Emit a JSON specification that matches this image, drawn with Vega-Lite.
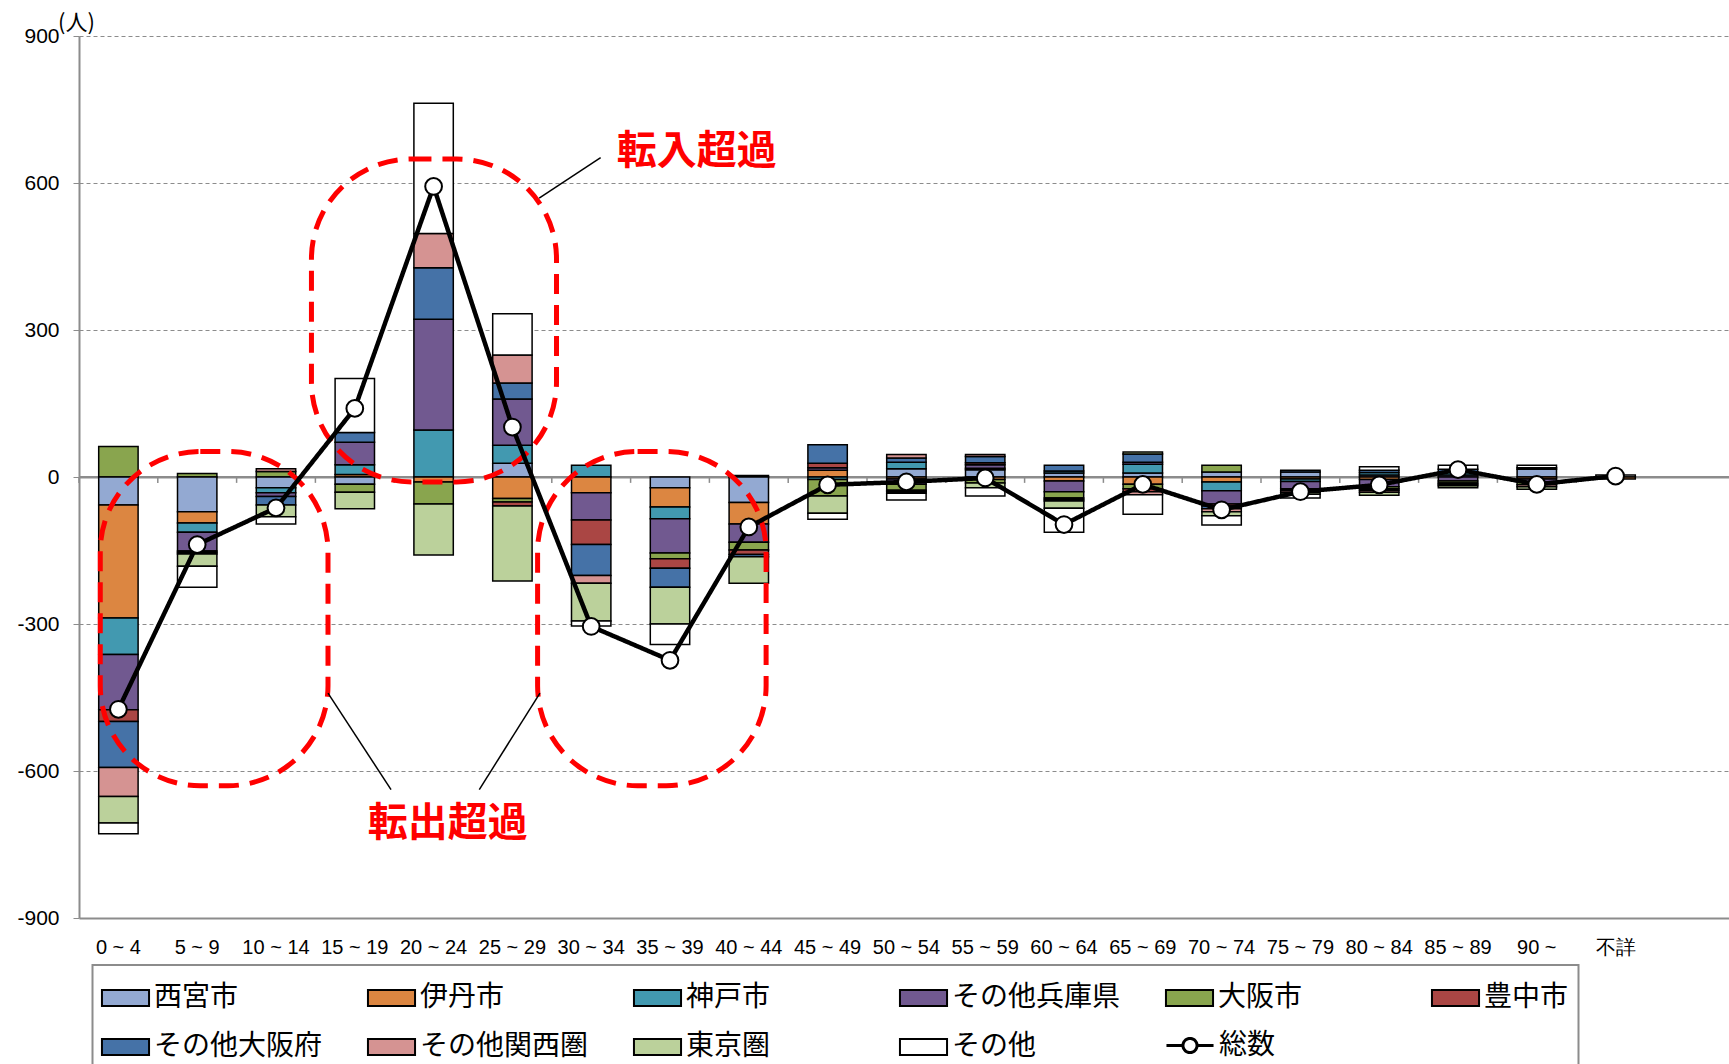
{
  "$schema": "https://vega.github.io/schema/vega-lite/v6.json",
  "width": 1650,
  "height": 882,
  "autosize": {"type": "none"},
  "padding": {"left": 79, "top": 36, "right": 0, "bottom": 146},
  "background": "white",
  "config": {"view": {"stroke": null}, "axis": {"labelFont": "Liberation Sans"}, "legend": {"strokeWidth": 2}},
  "datasets": {
    "series": [
      {"s": "西宮市", "k": 1}, {"s": "伊丹市", "k": 2}, {"s": "神戸市", "k": 3}, {"s": "その他兵庫県", "k": 4}, {"s": "大阪市", "k": 5},
      {"s": "豊中市", "k": 6}, {"s": "その他大阪府", "k": 7}, {"s": "その他関西圏", "k": 8}, {"s": "東京圏", "k": 9}, {"s": "その他", "k": 10}
    ],
    "bars": [
      {"a": "0 ~ 4", "s": "大阪市", "v": 62}, {"a": "0 ~ 4", "s": "西宮市", "v": -57}, {"a": "0 ~ 4", "s": "伊丹市", "v": -231}, {"a": "0 ~ 4", "s": "神戸市", "v": -74}, {"a": "0 ~ 4", "s": "その他兵庫県", "v": -113}, {"a": "0 ~ 4", "s": "豊中市", "v": -24}, {"a": "0 ~ 4", "s": "その他大阪府", "v": -94}, {"a": "0 ~ 4", "s": "その他関西圏", "v": -59}, {"a": "0 ~ 4", "s": "東京圏", "v": -54}, {"a": "0 ~ 4", "s": "その他", "v": -22},
      {"a": "5 ~ 9", "s": "大阪市", "v": 7}, {"a": "5 ~ 9", "s": "西宮市", "v": -71}, {"a": "5 ~ 9", "s": "伊丹市", "v": -23}, {"a": "5 ~ 9", "s": "神戸市", "v": -19}, {"a": "5 ~ 9", "s": "その他兵庫県", "v": -38}, {"a": "5 ~ 9", "s": "豊中市", "v": -3}, {"a": "5 ~ 9", "s": "その他大阪府", "v": -3}, {"a": "5 ~ 9", "s": "東京圏", "v": -25}, {"a": "5 ~ 9", "s": "その他", "v": -43},
      {"a": "10 ~ 14", "s": "大阪市", "v": 11}, {"a": "10 ~ 14", "s": "その他関西圏", "v": 6}, {"a": "10 ~ 14", "s": "西宮市", "v": -22}, {"a": "10 ~ 14", "s": "神戸市", "v": -10}, {"a": "10 ~ 14", "s": "その他兵庫県", "v": -8}, {"a": "10 ~ 14", "s": "その他大阪府", "v": -17}, {"a": "10 ~ 14", "s": "東京圏", "v": -24}, {"a": "10 ~ 14", "s": "その他", "v": -15},
      {"a": "15 ~ 19", "s": "伊丹市", "v": 5}, {"a": "15 ~ 19", "s": "神戸市", "v": 20}, {"a": "15 ~ 19", "s": "その他兵庫県", "v": 46}, {"a": "15 ~ 19", "s": "その他大阪府", "v": 20}, {"a": "15 ~ 19", "s": "その他", "v": 110}, {"a": "15 ~ 19", "s": "西宮市", "v": -15}, {"a": "15 ~ 19", "s": "大阪市", "v": -16}, {"a": "15 ~ 19", "s": "東京圏", "v": -34},
      {"a": "20 ~ 24", "s": "神戸市", "v": 96}, {"a": "20 ~ 24", "s": "その他兵庫県", "v": 226}, {"a": "20 ~ 24", "s": "その他大阪府", "v": 105}, {"a": "20 ~ 24", "s": "その他関西圏", "v": 70}, {"a": "20 ~ 24", "s": "その他", "v": 266}, {"a": "20 ~ 24", "s": "伊丹市", "v": -10}, {"a": "20 ~ 24", "s": "大阪市", "v": -45}, {"a": "20 ~ 24", "s": "東京圏", "v": -104},
      {"a": "25 ~ 29", "s": "西宮市", "v": 28}, {"a": "25 ~ 29", "s": "神戸市", "v": 37}, {"a": "25 ~ 29", "s": "その他兵庫県", "v": 94}, {"a": "25 ~ 29", "s": "その他大阪府", "v": 33}, {"a": "25 ~ 29", "s": "その他関西圏", "v": 57}, {"a": "25 ~ 29", "s": "その他", "v": 84}, {"a": "25 ~ 29", "s": "伊丹市", "v": -44}, {"a": "25 ~ 29", "s": "大阪市", "v": -7}, {"a": "25 ~ 29", "s": "豊中市", "v": -8}, {"a": "25 ~ 29", "s": "東京圏", "v": -153},
      {"a": "30 ~ 34", "s": "神戸市", "v": 24}, {"a": "30 ~ 34", "s": "伊丹市", "v": -32}, {"a": "30 ~ 34", "s": "その他兵庫県", "v": -56}, {"a": "30 ~ 34", "s": "豊中市", "v": -50}, {"a": "30 ~ 34", "s": "その他大阪府", "v": -63}, {"a": "30 ~ 34", "s": "その他関西圏", "v": -16}, {"a": "30 ~ 34", "s": "東京圏", "v": -77}, {"a": "30 ~ 34", "s": "その他", "v": -10},
      {"a": "35 ~ 39", "s": "西宮市", "v": -22}, {"a": "35 ~ 39", "s": "伊丹市", "v": -39}, {"a": "35 ~ 39", "s": "神戸市", "v": -24}, {"a": "35 ~ 39", "s": "その他兵庫県", "v": -70}, {"a": "35 ~ 39", "s": "大阪市", "v": -12}, {"a": "35 ~ 39", "s": "豊中市", "v": -19}, {"a": "35 ~ 39", "s": "その他大阪府", "v": -39}, {"a": "35 ~ 39", "s": "東京圏", "v": -75}, {"a": "35 ~ 39", "s": "その他", "v": -42},
      {"a": "40 ~ 44", "s": "神戸市", "v": 3}, {"a": "40 ~ 44", "s": "西宮市", "v": -52}, {"a": "40 ~ 44", "s": "伊丹市", "v": -44}, {"a": "40 ~ 44", "s": "その他兵庫県", "v": -37}, {"a": "40 ~ 44", "s": "大阪市", "v": -16}, {"a": "40 ~ 44", "s": "豊中市", "v": -9}, {"a": "40 ~ 44", "s": "その他大阪府", "v": -5}, {"a": "40 ~ 44", "s": "東京圏", "v": -54},
      {"a": "45 ~ 49", "s": "伊丹市", "v": 14}, {"a": "45 ~ 49", "s": "その他兵庫県", "v": 5}, {"a": "45 ~ 49", "s": "豊中市", "v": 9}, {"a": "45 ~ 49", "s": "その他大阪府", "v": 38}, {"a": "45 ~ 49", "s": "神戸市", "v": -5}, {"a": "45 ~ 49", "s": "大阪市", "v": -34}, {"a": "45 ~ 49", "s": "東京圏", "v": -35}, {"a": "45 ~ 49", "s": "その他", "v": -12},
      {"a": "50 ~ 54", "s": "西宮市", "v": 17}, {"a": "50 ~ 54", "s": "神戸市", "v": 13}, {"a": "50 ~ 54", "s": "その他大阪府", "v": 9}, {"a": "50 ~ 54", "s": "その他関西圏", "v": 7}, {"a": "50 ~ 54", "s": "伊丹市", "v": -4}, {"a": "50 ~ 54", "s": "その他兵庫県", "v": -11}, {"a": "50 ~ 54", "s": "大阪市", "v": -12}, {"a": "50 ~ 54", "s": "豊中市", "v": -3}, {"a": "50 ~ 54", "s": "東京圏", "v": -3}, {"a": "50 ~ 54", "s": "その他", "v": -14},
      {"a": "55 ~ 59", "s": "西宮市", "v": 15}, {"a": "55 ~ 59", "s": "神戸市", "v": 3}, {"a": "55 ~ 59", "s": "その他兵庫県", "v": 7}, {"a": "55 ~ 59", "s": "豊中市", "v": 4}, {"a": "55 ~ 59", "s": "その他大阪府", "v": 13}, {"a": "55 ~ 59", "s": "その他関西圏", "v": 4}, {"a": "55 ~ 59", "s": "伊丹市", "v": -5}, {"a": "55 ~ 59", "s": "大阪市", "v": -7}, {"a": "55 ~ 59", "s": "東京圏", "v": -10}, {"a": "55 ~ 59", "s": "その他", "v": -17},
      {"a": "60 ~ 64", "s": "西宮市", "v": 8}, {"a": "60 ~ 64", "s": "神戸市", "v": 4}, {"a": "60 ~ 64", "s": "その他大阪府", "v": 12}, {"a": "60 ~ 64", "s": "伊丹市", "v": -8}, {"a": "60 ~ 64", "s": "その他兵庫県", "v": -22}, {"a": "60 ~ 64", "s": "大阪市", "v": -13}, {"a": "60 ~ 64", "s": "豊中市", "v": -3}, {"a": "60 ~ 64", "s": "その他関西圏", "v": -3}, {"a": "60 ~ 64", "s": "東京圏", "v": -15}, {"a": "60 ~ 64", "s": "その他", "v": -49},
      {"a": "65 ~ 69", "s": "西宮市", "v": 8}, {"a": "65 ~ 69", "s": "神戸市", "v": 18}, {"a": "65 ~ 69", "s": "その他兵庫県", "v": 4}, {"a": "65 ~ 69", "s": "その他大阪府", "v": 17}, {"a": "65 ~ 69", "s": "東京圏", "v": 4}, {"a": "65 ~ 69", "s": "伊丹市", "v": -15}, {"a": "65 ~ 69", "s": "大阪市", "v": -9}, {"a": "65 ~ 69", "s": "豊中市", "v": -6}, {"a": "65 ~ 69", "s": "その他関西圏", "v": -6}, {"a": "65 ~ 69", "s": "その他", "v": -40},
      {"a": "70 ~ 74", "s": "西宮市", "v": 10}, {"a": "70 ~ 74", "s": "大阪市", "v": 14}, {"a": "70 ~ 74", "s": "伊丹市", "v": -10}, {"a": "70 ~ 74", "s": "神戸市", "v": -18}, {"a": "70 ~ 74", "s": "その他兵庫県", "v": -27}, {"a": "70 ~ 74", "s": "豊中市", "v": -4}, {"a": "70 ~ 74", "s": "その他大阪府", "v": -6}, {"a": "70 ~ 74", "s": "その他関西圏", "v": -6}, {"a": "70 ~ 74", "s": "東京圏", "v": -8}, {"a": "70 ~ 74", "s": "その他", "v": -19},
      {"a": "75 ~ 79", "s": "西宮市", "v": 10}, {"a": "75 ~ 79", "s": "その他大阪府", "v": 4}, {"a": "75 ~ 79", "s": "伊丹市", "v": -4}, {"a": "75 ~ 79", "s": "神戸市", "v": -5}, {"a": "75 ~ 79", "s": "その他兵庫県", "v": -15}, {"a": "75 ~ 79", "s": "豊中市", "v": -3}, {"a": "75 ~ 79", "s": "その他関西圏", "v": -4}, {"a": "75 ~ 79", "s": "東京圏", "v": -4}, {"a": "75 ~ 79", "s": "その他", "v": -8},
      {"a": "80 ~ 84", "s": "西宮市", "v": 4}, {"a": "80 ~ 84", "s": "神戸市", "v": 5}, {"a": "80 ~ 84", "s": "その他大阪府", "v": 5}, {"a": "80 ~ 84", "s": "その他", "v": 7}, {"a": "80 ~ 84", "s": "伊丹市", "v": -5}, {"a": "80 ~ 84", "s": "その他兵庫県", "v": -15}, {"a": "80 ~ 84", "s": "大阪市", "v": -4}, {"a": "80 ~ 84", "s": "豊中市", "v": -3}, {"a": "80 ~ 84", "s": "その他関西圏", "v": -4}, {"a": "80 ~ 84", "s": "東京圏", "v": -6},
      {"a": "85 ~ 89", "s": "西宮市", "v": 4}, {"a": "85 ~ 89", "s": "神戸市", "v": 6}, {"a": "85 ~ 89", "s": "その他大阪府", "v": 6}, {"a": "85 ~ 89", "s": "その他", "v": 8}, {"a": "85 ~ 89", "s": "その他兵庫県", "v": -8}, {"a": "85 ~ 89", "s": "大阪市", "v": -4}, {"a": "85 ~ 89", "s": "豊中市", "v": -3}, {"a": "85 ~ 89", "s": "その他関西圏", "v": -3}, {"a": "85 ~ 89", "s": "東京圏", "v": -4},
      {"a": "90 ~", "s": "西宮市", "v": 16}, {"a": "90 ~", "s": "その他大阪府", "v": 3}, {"a": "90 ~", "s": "その他", "v": 5}, {"a": "90 ~", "s": "伊丹市", "v": -4}, {"a": "90 ~", "s": "その他兵庫県", "v": -6}, {"a": "90 ~", "s": "大阪市", "v": -6}, {"a": "90 ~", "s": "その他関西圏", "v": -4}, {"a": "90 ~", "s": "東京圏", "v": -5},
      {"a": "不詳", "s": "その他", "v": 4}, {"a": "不詳", "s": "伊丹市", "v": -4}
    ],
    "total": [
      {"a": "0 ~ 4", "v": -474}, {"a": "5 ~ 9", "v": -138}, {"a": "10 ~ 14", "v": -63}, {"a": "15 ~ 19", "v": 140}, {"a": "20 ~ 24", "v": 593},
      {"a": "25 ~ 29", "v": 102}, {"a": "30 ~ 34", "v": -305}, {"a": "35 ~ 39", "v": -374}, {"a": "40 ~ 44", "v": -102}, {"a": "45 ~ 49", "v": -16},
      {"a": "50 ~ 54", "v": -10}, {"a": "55 ~ 59", "v": -2}, {"a": "60 ~ 64", "v": -97}, {"a": "65 ~ 69", "v": -15}, {"a": "70 ~ 74", "v": -67},
      {"a": "75 ~ 79", "v": -30}, {"a": "80 ~ 84", "v": -16}, {"a": "85 ~ 89", "v": 15}, {"a": "90 ~", "v": -15}, {"a": "不詳", "v": 2}
    ],
    "shapes": [
      {"x1": 2.95, "x2": 6.06, "y1": -10, "y2": 649},
      {"x1": 0.27, "x2": 3.16, "y1": -630, "y2": 52},
      {"x1": 5.82, "x2": 8.72, "y1": -630, "y2": 52}
    ],
    "leaders": [
      {"x1": 5.84, "y1": 569, "x2": 6.62, "y2": 652},
      {"x1": 3.16, "y1": -441, "x2": 3.96, "y2": -638},
      {"x1": 5.85, "y1": -441, "x2": 5.08, "y2": -638}
    ],
    "notes": [
      {"x": 7.84, "y": 663, "t": "転入超過"},
      {"x": 4.68, "y": -708, "t": "転出超過"}
    ]
  },
  "layer": [
    {
      "data": {"values": [{}]},
      "mark": {"type": "rule", "color": "#8c8c8c", "strokeWidth": 2},
      "encoding": {
        "x": {"datum": 0, "type": "quantitative", "scale": {"domain": [0, 20.94], "nice": false, "zero": false}, "axis": null},
        "x2": {"datum": 20.94},
        "y": {"datum": 0, "type": "quantitative",
              "scale": {"domain": [-900, 900], "nice": false},
              "axis": {"values": [-900, -600, -300, 0, 300, 600, 900], "grid": true, "gridColor": "#8c8c8c",
                       "gridDash": {"condition": {"test": "datum.value === -900 || datum.value === 0", "value": []}, "value": [4, 3]},
                       "gridWidth": {"condition": {"test": "datum.value === -900 || datum.value === 0", "value": 2}, "value": 1},
                       "domainColor": "#8c8c8c", "domainWidth": 2, "tickColor": "#8c8c8c", "tickSize": 6, "labelPadding": 14,
                       "labelFontSize": 21, "labelColor": "black", "labelFont": "Liberation Sans", "labelExpr": "toString(datum.value)",
                       "title": "(人)", "titleAngle": 0, "titleX": -3, "titleY": -14, "titleAlign": "center", "titleBaseline": "middle",
                       "titleFontWeight": "normal", "titleFontSize": 22, "titleFont": "Noto Sans CJK JP", "titleColor": "black"}}
      }
    },
    {
      "data": {"name": "bars"},
      "transform": [{"lookup": "s", "from": {"data": {"name": "series"}, "key": "s", "fields": ["k"]}}],
      "mark": {"type": "bar", "stroke": "black", "strokeWidth": 1.5},
      "encoding": {
        "x": {"field": "a", "type": "nominal",
              "scale": {"domain": ["0 ~ 4","5 ~ 9","10 ~ 14","15 ~ 19","20 ~ 24","25 ~ 29","30 ~ 34","35 ~ 39","40 ~ 44","45 ~ 49","50 ~ 54","55 ~ 59","60 ~ 64","65 ~ 69","70 ~ 74","75 ~ 79","80 ~ 84","85 ~ 89","90 ~","不詳"], "range": [0, 1576], "paddingInner": 0.5, "paddingOuter": 0.25},
              "axis": {"title": null, "domain": false, "ticks": false, "grid": false, "labelPadding": 19, "labelFontSize": 20, "labelColor": "black", "labelAngle": 0, "labelFont": "Liberation Sans"}},
        "y": {"field": "v", "type": "quantitative", "stack": "zero"},
        "color": {"field": "s", "type": "nominal",
                  "scale": {"domain": ["西宮市","伊丹市","神戸市","その他兵庫県","大阪市","豊中市","その他大阪府","その他関西圏","東京圏","その他"],
                            "range": ["#93A9D2","#DC8641","#4299B0","#715990","#89A54E","#AA4644","#4572A7","#D59392","#BBD19B","#FFFFFF"]},
                  "legend": {"orient": "none", "legendX": 13.5, "legendY": 929, "columns": 6, "direction": "horizontal", "title": null,
                             "symbolSize": 1936, "symbolType": "M-1.07,-0.36H1.07V0.36H-1.07Z", "symbolStrokeColor": "black", "symbolStrokeWidth": 2,
                             "labelFontSize": 28, "labelFont": "Noto Sans CJK JP", "labelColor": "black", "labelOffset": 5.5, "labelLimit": 400,
                             "labelExpr": "datum.label === '豊中市' ? datum.label + '　　　' : datum.label",
                             "columnPadding": 41, "rowPadding": 12, "padding": 10, "strokeColor": "#8c8c8c", "gridAlign": "all"}},
        "order": {"field": "k", "type": "quantitative"}
      }
    },
    {
      "data": {"name": "total"},
      "mark": {"type": "rule", "color": "#8c8c8c", "strokeWidth": 1.5},
      "encoding": {
        "x": {"field": "a", "type": "nominal", "bandPosition": -0.5,
              "scale": {"domain": ["0 ~ 4","5 ~ 9","10 ~ 14","15 ~ 19","20 ~ 24","25 ~ 29","30 ~ 34","35 ~ 39","40 ~ 44","45 ~ 49","50 ~ 54","55 ~ 59","60 ~ 64","65 ~ 69","70 ~ 74","75 ~ 79","80 ~ 84","85 ~ 89","90 ~","不詳"], "range": [0, 1576], "paddingInner": 0.5, "paddingOuter": 0.25},
              "axis": null},
        "y": {"datum": 0, "type": "quantitative"},
        "y2": {"datum": -12}
      }
    },
    {
      "data": {"name": "shapes"},
      "mark": {"type": "rect", "fill": "transparent", "stroke": "#ff0000", "strokeWidth": 5, "strokeDash": [20, 11], "cornerRadius": 100},
      "encoding": {
        "x": {"field": "x1", "type": "quantitative", "scale": {"domain": [0, 20.94], "nice": false, "zero": false}, "axis": null},
        "x2": {"field": "x2"},
        "y": {"field": "y1", "type": "quantitative"},
        "y2": {"field": "y2"}
      }
    },
    {
      "data": {"name": "total"},
      "layer": [
        {"mark": {"type": "line", "color": "black", "strokeWidth": 4.5},
         "encoding": {"strokeDash": {"datum": "総数", "type": "nominal", "scale": {"domain": ["総数"], "range": [[1, 0]]},
                      "legend": {"orient": "none", "legendX": 1087.5, "legendY": 986, "title": null, "padding": 0,
                                 "symbolSize": 1936, "symbolType": "M-1.07,0H-0.32M0.32,0H1.07M0.32,0A0.32,0.32 0 1 1 -0.32,0A0.32,0.32 0 1 1 0.32,0Z",
                                 "symbolFillColor": "white", "symbolStrokeColor": "black", "symbolStrokeWidth": 3,
                                 "labelFontSize": 28, "labelFont": "Noto Sans CJK JP", "labelColor": "black", "labelOffset": 5.5, "strokeColor": null}}}},
        {"mark": {"type": "point", "filled": true, "fill": "white", "stroke": "black", "strokeWidth": 2, "size": 280, "opacity": 1}, "encoding": {}}
      ],
      "encoding": {
        "x": {"field": "a", "type": "nominal",
              "scale": {"domain": ["0 ~ 4","5 ~ 9","10 ~ 14","15 ~ 19","20 ~ 24","25 ~ 29","30 ~ 34","35 ~ 39","40 ~ 44","45 ~ 49","50 ~ 54","55 ~ 59","60 ~ 64","65 ~ 69","70 ~ 74","75 ~ 79","80 ~ 84","85 ~ 89","90 ~","不詳"], "range": [0, 1576], "paddingInner": 0.5, "paddingOuter": 0.25},
              "axis": null},
        "y": {"field": "v", "type": "quantitative"}
      }
    },
    {
      "data": {"name": "leaders"},
      "mark": {"type": "rule", "color": "black", "strokeWidth": 1.5},
      "encoding": {
        "x": {"field": "x1", "type": "quantitative", "scale": {"domain": [0, 20.94], "nice": false, "zero": false}, "axis": null},
        "x2": {"field": "x2"},
        "y": {"field": "y1", "type": "quantitative"},
        "y2": {"field": "y2"}
      }
    },
    {
      "data": {"name": "notes"},
      "mark": {"type": "text", "color": "#ff0000", "fontSize": 40, "fontWeight": "bold", "font": "Noto Sans CJK JP", "align": "center", "baseline": "middle"},
      "encoding": {
        "x": {"field": "x", "type": "quantitative", "scale": {"domain": [0, 20.94], "nice": false, "zero": false}, "axis": null},
        "y": {"field": "y", "type": "quantitative"},
        "text": {"field": "t"}
      }
    }
  ],
  "resolve": {"scale": {"x": "independent"}}
}
